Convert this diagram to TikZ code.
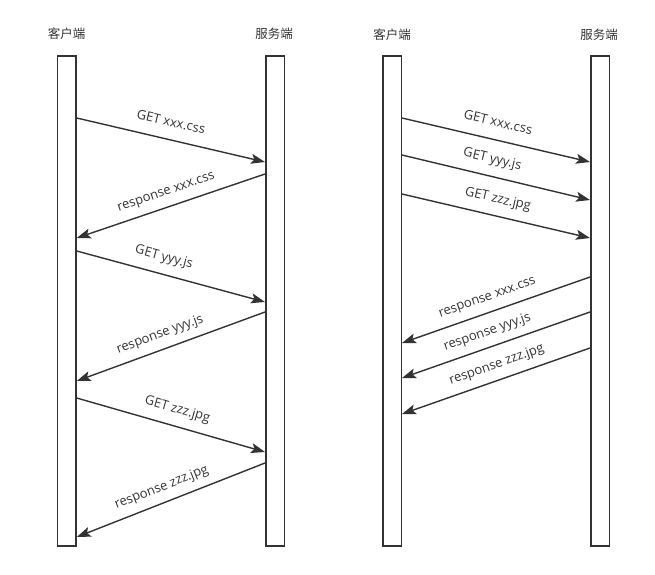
\documentclass[tikz,border=0pt]{standalone}
\usepackage{fontspec}
\setmainfont{Open Sans}
\newfontfamily\cjk{Noto Sans CJK SC}
\usetikzlibrary{arrows.meta}
\definecolor{lineclr}{HTML}{333333}
\begin{document}
\begin{tikzpicture}[x=1pt,y=-1pt,
  bar/.style={draw=lineclr, line width=1.5pt, minimum width=18.5pt, minimum height=490pt, inner sep=0pt, fill=white},
  head/.style={font=\cjk\fontsize{12.5}{14}\selectfont, text=lineclr, inner sep=0pt},
  msg/.style={draw=lineclr, line width=1.4pt, -{Stealth[length=14pt,width=10pt,inset=3pt]}},
  lbl/.style={sloped, font=\fontsize{13}{15}\selectfont, text=lineclr, inner sep=0pt, text height=9.5pt, text depth=3pt},
  getlbl/.style={lbl, above=9.5pt},
  reslbl/.style={lbl, above=8pt},
]
\useasboundingbox (0,0) rectangle (655,574);
% bars
\node[bar] (c1) at (66.75,301) {};
\node[bar] (s1) at (275,301) {};
\node[bar] (c2) at (392,301) {};
\node[bar] (s2) at (600,301) {};
% headers
\node[head] (hc1) at (66.5,34) {客户端};
\node[head] (hs1) at (274,34) {服务端};
\node[head] (hc2) at (392,35) {客户端};
\node[head] (hs2) at (599,35) {服务端};
% left endpoints
\coordinate (a1) at (c1.east |- 0,118);  \coordinate (b1) at (s1.west |- 0,162);
\coordinate (a2) at (s1.west |- 0,174);  \coordinate (b2) at (c1.east |- 0,238);
\coordinate (a3) at (c1.east |- 0,251);  \coordinate (b3) at (s1.west |- 0,302);
\coordinate (a4) at (s1.west |- 0,312);  \coordinate (b4) at (c1.east |- 0,381);
\coordinate (a5) at (c1.east |- 0,398);  \coordinate (b5) at (s1.west |- 0,452);
\coordinate (a6) at (s1.west |- 0,463);  \coordinate (b6) at (c1.east |- 0,537);
% right endpoints
\coordinate (d1) at (c2.east |- 0,118);  \coordinate (e1) at (s2.west |- 0,162);
\coordinate (d2) at (c2.east |- 0,155);  \coordinate (e2) at (s2.west |- 0,200);
\coordinate (d3) at (c2.east |- 0,194);  \coordinate (e3) at (s2.west |- 0,238);
\coordinate (d4) at (s2.west |- 0,277);  \coordinate (e4) at (c2.east |- 0,343);
\coordinate (d5) at (s2.west |- 0,312);  \coordinate (e5) at (c2.east |- 0,378);
\coordinate (d6) at (s2.west |- 0,348);  \coordinate (e6) at (c2.east |- 0,414);
% left messages
\draw[msg] (a1) -- node[getlbl, pos=0.48] (l1) {GET xxx.css} (b1);
\draw[msg] (a2) -- node[reslbl, pos=0.50] (l2) {response xxx.css} (b2);
\draw[msg] (a3) -- node[getlbl, pos=0.44] (l3) {GET yyy.js} (b3);
\draw[msg] (a4) -- node[reslbl, pos=0.53] (l4) {response yyy.js} (b4);
\draw[msg] (a5) -- node[getlbl, pos=0.51] (l5) {GET zzz.jpg} (b5);
\draw[msg] (a6) -- node[reslbl, pos=0.52] (l6) {response zzz.jpg} (b6);
% right messages
\draw[msg] (d1) -- node[getlbl, pos=0.49] (r1) {GET xxx.css} (e1);
\draw[msg] (d2) -- node[getlbl, pos=0.46] (r2) {GET yyy.js} (e2);
\draw[msg] (d3) -- node[getlbl, pos=0.49] (r3) {GET zzz.jpg} (e3);
\draw[msg] (d4) -- node[reslbl, pos=0.52] (r4) {response xxx.css} (e4);
\draw[msg] (d5) -- node[reslbl, pos=0.52] (r5) {response yyy.js} (e5);
\draw[msg] (d6) -- node[reslbl, pos=0.47] (r6) {response zzz.jpg} (e6);
\end{tikzpicture}
\end{document}
